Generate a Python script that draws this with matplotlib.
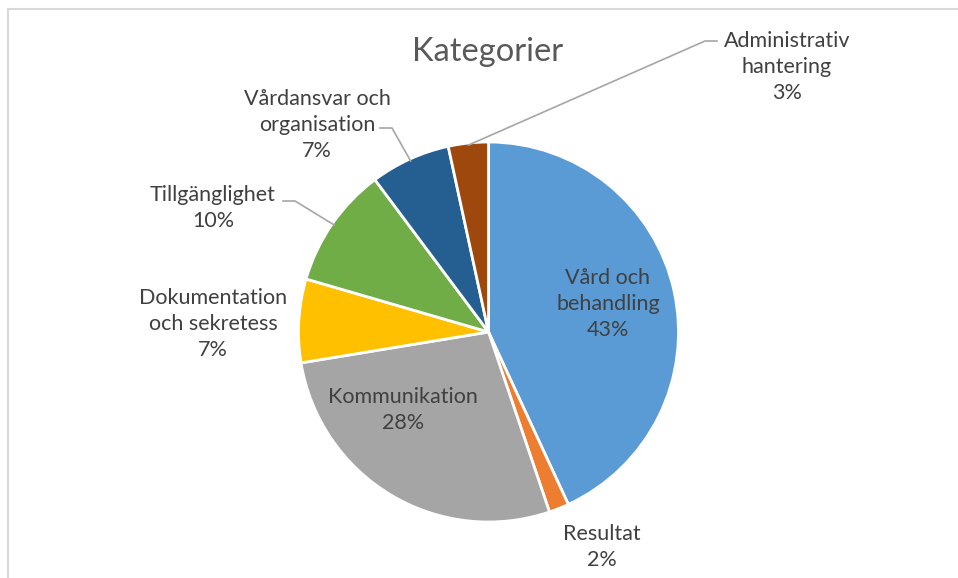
import matplotlib
matplotlib.use('Agg')
import matplotlib.pyplot as plt
from matplotlib.patches import Rectangle
import numpy as np

# data (percent of total)
categories = ['Vård och\nbehandling', 'Resultat', 'Kommunikation',
              'Dokumentation\noch sekretess', 'Tillgänglighet',
              'Vårdansvar och\norganisation', 'Administrativ\nhantering']
shares = [43.1, 1.7, 27.6, 7.1, 10.3, 6.8, 3.4]
colors = ['#5B9BD5', '#ED7D31', '#A5A5A5', '#FFC000', '#70AD47', '#255E91', '#9E480E']

W, H = 958, 578
def py(y):
	# pixel row (from top) -> data y
	return H - y

# label block centres (pixels) and leader elbows, layout only
label_pos = [(608, 304), (602, 547), (403, 410), (213, 324), (213, 208), (317, 125), (787, 67)]
leaders = {4: [(283, 201), (295, 201)], 5: [(380, 128), (392, 128)], 6: [(717, 41), (705, 41)]}

plt.rcParams['font.family'] = ['Lato', 'DejaVu Sans']
fig = plt.figure(figsize=(W/100, H/100), dpi=100)
ax = fig.add_axes([0, 0, 1, 1])

cx, cy, R = 488.5, py(332), 190
wedges, _ = ax.pie(shares, colors=colors, startangle=90, counterclock=False,
                   center=(cx, cy), radius=R,
                   wedgeprops=dict(edgecolor='white', linewidth=2))
ax.set_xlim(0, W)
ax.set_ylim(0, H)
ax.set_aspect('auto')
ax.axis('off')

# chart frame (only left and top are visible in the crop)
ax.add_patch(Rectangle((8, -20), W + 40, py(9) + 20, fill=False, edgecolor='#D9D9D9', lw=1.5))

ax.text(488, py(52), 'Kategorier', ha='center', va='center', fontsize=23.5, color='#595959')

for i, (w, lab, v) in enumerate(zip(wedges, categories, shares)):
	x, y = label_pos[i]
	ax.text(x, py(y), lab + '\n' + f'{round(v)}%', ha='center', va='center',
			multialignment='center', fontsize=15.5, color='#404040', linespacing=1.39)
	if i in leaders:
		mid = np.deg2rad((w.theta1 + w.theta2) / 2)
		px_ = [p[0] for p in leaders[i]] + [cx + (R - 2) * np.cos(mid)]
		py_ = [py(p[1]) for p in leaders[i]] + [cy + (R - 2) * np.sin(mid)]
		ax.plot(px_, py_, color='#A6A6A6', lw=1.2)

plt.savefig('out.png', dpi=100)
